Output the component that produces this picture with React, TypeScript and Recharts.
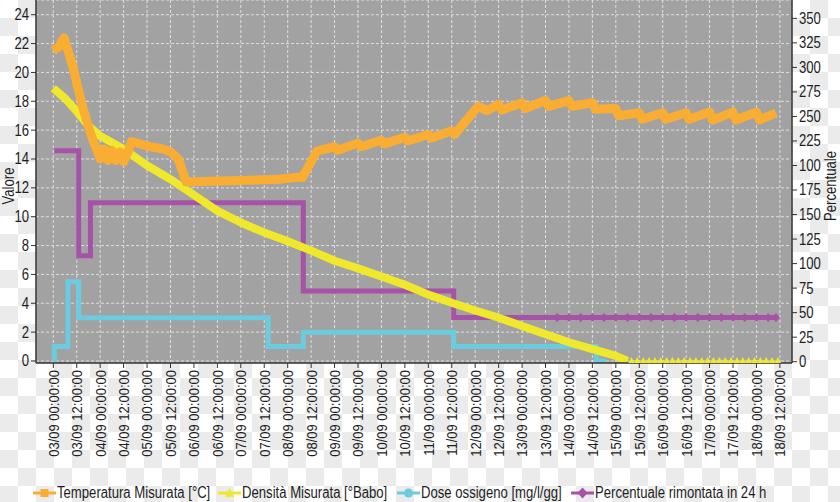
import React from 'react';
import { LineChart, Line, XAxis, YAxis, CartesianGrid } from 'recharts';

// ---------- Axis ticks ----------
const xTickHours = [0, 12, 24, 36, 48, 60, 72, 84, 96, 108, 120, 132, 144, 156, 168, 180, 192, 204, 216, 228, 240, 252, 264, 276, 288, 300, 312, 324, 336, 348, 360, 372];
const xTickLabels = [
  '03/09 00:00:00', '03/09 12:00:00', '04/09 00:00:00', '04/09 12:00:00',
  '05/09 00:00:00', '05/09 12:00:00', '06/09 00:00:00', '06/09 12:00:00',
  '07/09 00:00:00', '07/09 12:00:00', '08/09 00:00:00', '08/09 12:00:00',
  '09/09 00:00:00', '09/09 12:00:00', '10/09 00:00:00', '10/09 12:00:00',
  '11/09 00:00:00', '11/09 12:00:00', '12/09 00:00:00', '12/09 12:00:00',
  '13/09 00:00:00', '13/09 12:00:00', '14/09 00:00:00', '14/09 12:00:00',
  '15/09 00:00:00', '15/09 12:00:00', '16/09 00:00:00', '16/09 12:00:00',
  '17/09 00:00:00', '17/09 12:00:00', '18/09 00:00:00', '18/09 12:00:00',
];
const leftTicks = [0, 2, 4, 6, 8, 10, 12, 14, 16, 18, 20, 22, 24];
const rightTicks = [0, 25, 50, 75, 100, 125, 150, 175, 200, 225, 250, 275, 300, 325, 350];
const rightTickLabels = ['0', '25', '50', '75', '100', '125', '150', '175', '100', '225', '250', '275', '300', '325', '350'];

// ---------- Series (x = hours since 03/09 00:00) ----------
const tempHours = [0, 3, 5.5, 10, 15, 19, 24, 26, 28, 30, 32, 34, 36, 38, 40, 48, 56, 60, 64, 68, 80, 92, 104, 116, 126, 127.5, 135, 144, 145.5, 156, 157.5, 168, 169.5, 180, 181.5, 192, 193.5, 204, 205.5, 217.5, 222, 228, 229.5, 240, 241.5, 252, 253.5, 264, 265.5, 276, 277.5, 288, 289.5, 300, 301.5, 312, 313.5, 324, 325.5, 336, 337.5, 348, 349.5, 360, 361.5, 370];
const tempValues = [21.5, 21.8, 22.4, 20.4, 17.6, 15.8, 14.0, 14.7, 13.9, 14.6, 13.9, 14.5, 13.8, 14.4, 15.2, 14.9, 14.7, 14.5, 14.0, 12.4, 12.45, 12.5, 12.55, 12.6, 12.75, 12.7, 14.55, 14.85, 14.6, 15.1, 14.85, 15.3, 15.05, 15.5, 15.25, 15.7, 15.45, 15.95, 15.7, 17.65, 17.35, 17.8, 17.4, 17.9, 17.5, 18.05, 17.65, 18.05, 17.65, 17.9, 17.45, 17.5, 17.0, 17.2, 16.75, 17.2, 16.75, 17.2, 16.75, 17.25, 16.7, 17.25, 16.7, 17.25, 16.7, 17.2];

const densHours = [0, 6, 12, 18, 24, 36, 48, 60, 72, 84, 96, 108, 120, 132, 144, 156, 168, 180, 192, 204, 216, 228, 240, 252, 264, 276, 288, 294];
const densValues = [18.9, 18.2, 17.3, 16.3, 15.6, 14.7, 13.55, 12.6, 11.5, 10.4, 9.6, 8.9, 8.3, 7.65, 6.95, 6.42, 5.85, 5.28, 4.6, 4.04, 3.5, 3.0, 2.43, 1.85, 1.3, 0.82, 0.35, 0];
const densTailHours = [296, 299, 302, 305, 308, 311, 314, 317, 320, 323, 326, 329, 332, 335, 338, 341, 344, 347, 350, 353, 356, 359, 362, 365, 368, 371];
const densTailValues = [0, 0, 0, 0, 0, 0, 0, 0, 0, 0, 0, 0, 0, 0, 0, 0, 0, 0, 0, 0, 0, 0, 0, 0, 0, 0];

const doseHours = [0, 0.5, 7.5, 13, 110, 128, 205, 278, 283];
const doseValues = [0, 1, 5.5, 3, 1, 2, 1, 0, 0];

const pctHours = [0.5, 13, 19, 128, 205, 370.5];
const pctValues = [215, 108, 162, 72, 45, 45];
const pctTailHours = [258, 264, 270, 276, 282, 288, 294, 300, 306, 312, 318, 324, 330, 336, 342, 348, 354, 360, 366, 370];
const pctTailValues = [45, 45, 45, 45, 45, 45, 45, 45, 45, 45, 45, 45, 45, 45, 45, 45, 45, 45, 45, 45];

const zip = (hs: number[], vs: number[]) => hs.map((h, i) => ({ h, v: vs[i] }));
const tempData = zip(tempHours, tempValues);
const densData = zip(densHours, densValues);
const densTailData = zip(densTailHours, densTailValues);
const doseData = zip(doseHours, doseValues);
const pctData = zip(pctHours, pctValues);
const pctTailData = zip(pctTailHours, pctTailValues);

const C_TEMP = '#f9ae33';
const C_DENS = '#f0e82c';
const C_DOSE = '#6ccbdf';
const C_PCT = '#a653a7';
const FONT = "'Liberation Sans', Arial, sans-serif";
const SX = 0.82; // horizontal condensing to mimic a narrow face
const TXT = '#1e1e1e';

const XTick = (props: any) => {
  const { x, y, payload } = props;
  const idx = xTickHours.indexOf(payload.value);
  return (
    <text x={0} y={0} transform={`translate(${x},${y}) rotate(-90) scale(0.84,1)`} textAnchor="end" dominantBaseline="central"
      fontFamily={FONT} fontSize={15.5} fill={TXT}>
      {xTickLabels[idx]}
    </text>
  );
};
const LeftTick = (props: any) => {
  const { x, y, payload } = props;
  return (
    <text x={0} y={0} transform={`translate(${x},${y}) scale(${SX},1)`} textAnchor="end" dominantBaseline="central"
      fontFamily={FONT} fontSize={16} fill={TXT}>{payload.value}</text>
  );
};
const RightTick = (props: any) => {
  const { x, y, payload } = props;
  return (
    <text x={0} y={0} transform={`translate(${x},${y}) scale(${SX},1)`} textAnchor="start" dominantBaseline="central"
      fontFamily={FONT} fontSize={16} fill={TXT}>{rightTickLabels[rightTicks.indexOf(payload.value)]}</text>
  );
};

const Triangle = (props: any) => {
  const { cx, cy } = props;
  if (cx == null || cy == null) return null;
  return <path d={`M${cx},${cy - 4} L${cx + 3.5},${cy + 2.5} L${cx - 3.5},${cy + 2.5} Z`} fill={C_DENS} />;
};
const Diamond = (props: any) => {
  const { cx, cy } = props;
  if (cx == null || cy == null) return null;
  return <path d={`M${cx},${cy - 4.5} L${cx + 4},${cy} L${cx},${cy + 4.5} L${cx - 4},${cy} Z`} fill={C_PCT} />;
};

const legendItems = [
  { label: 'Temperatura Misurata [°C]', color: C_TEMP, shape: 'square', x: 33 },
  { label: 'Densità Misurata [°Babo]', color: C_DENS, shape: 'triangle', x: 218 },
  { label: 'Dose ossigeno [mg/l/gg]', color: C_DOSE, shape: 'circle', x: 397 },
  { label: 'Percentuale rimontata in 24 h', color: C_PCT, shape: 'diamond', x: 571 },
];

const LegendIcon = ({ color, shape }: { color: string; shape: string }) => (
  <svg width={23} height={14} style={{ display: 'block', flex: 'none' }}>
    <line x1={0} y1={7} x2={23} y2={7} stroke={color} strokeWidth={3} />
    {shape === 'square' && <rect x={7.5} y={3} width={8} height={8} fill={color} />}
    {shape === 'triangle' && <path d="M11.5,2 L16,11 L7,11 Z" fill={color} />}
    {shape === 'circle' && <circle cx={11.5} cy={7} r={4.5} fill={color} />}
    {shape === 'diamond' && <path d="M11.5,1.5 L16.5,7 L11.5,12.5 L6.5,7 Z" fill={color} />}
  </svg>
);

export default function App() {
  return (
    <div
      style={{
        position: 'absolute', left: 0, top: 0, width: 840, height: 502,
        backgroundColor: '#ffffff',
        backgroundImage: 'conic-gradient(#ebebeb 25%, #ffffff 0 50%, #ebebeb 0 75%, #ffffff 0)',
        backgroundSize: '36px 36px',
        fontFamily: FONT,
      }}
    >
      <LineChart width={840} height={502} margin={{ top: 0, right: 0, left: 0, bottom: 29 }}>
        <CartesianGrid yAxisId="left" fill="#a2a2a2" stroke="#dedede" strokeDasharray="3 2" strokeWidth={1} />
        <XAxis
          dataKey="h" type="number" domain={[-8.86, 378.2]} allowDataOverflow
          ticks={xTickHours} interval={0} height={110}
          tick={<XTick />} tickSize={5} tickMargin={2}
          axisLine={{ stroke: '#333', strokeWidth: 1.5 }} tickLine={{ stroke: '#333' }}
        />
        <YAxis
          yAxisId="left" orientation="left" width={36} domain={[-0.14, 25.02]} allowDataOverflow
          ticks={leftTicks} interval={0} tickSize={5} tickMargin={2}
          tick={<LeftTick />}
          axisLine={{ stroke: '#333', strokeWidth: 1.5 }} tickLine={{ stroke: '#333' }}
          label={{
            content: () => (
              <text x={0} y={0} transform={`translate(9,186) rotate(-90) scale(${SX},1)`} textAnchor="middle" dominantBaseline="central"
                fontFamily={FONT} fontSize={16} fill={TXT}>Valore</text>
            ),
          }}
        />
        <YAxis
          yAxisId="right" orientation="right" width={48} domain={[-1.33, 368.7]} allowDataOverflow
          ticks={rightTicks} interval={0} tickSize={5} tickMargin={2}
          tick={<RightTick />}
          axisLine={{ stroke: '#333', strokeWidth: 1.5 }} tickLine={{ stroke: '#333' }}
          label={{
            content: () => (
              <text x={0} y={0} transform={`translate(831,186) rotate(-90) scale(${SX},1)`} textAnchor="middle" dominantBaseline="central"
                fontFamily={FONT} fontSize={16} fill={TXT}>Percentuale</text>
            ),
          }}
        />
        <Line yAxisId="right" data={pctData} dataKey="v" type="stepAfter" stroke={C_PCT} strokeWidth={5}
          dot={false} isAnimationActive={false} />
        <Line yAxisId="right" data={pctTailData} dataKey="v" type="linear" stroke="none"
          dot={<Diamond />} isAnimationActive={false} />
        <Line yAxisId="left" data={doseData} dataKey="v" type="stepAfter" stroke={C_DOSE} strokeWidth={5}
          dot={false} isAnimationActive={false} />
        <Line yAxisId="left" data={densData} dataKey="v" type="linear" stroke={C_DENS} strokeWidth={8}
          strokeLinejoin="round" dot={false} isAnimationActive={false} />
        <Line yAxisId="left" data={densTailData} dataKey="v" type="linear" stroke={C_DENS} strokeWidth={1}
          dot={<Triangle />} isAnimationActive={false} />
        <Line yAxisId="left" data={tempData} dataKey="v" type="linear" stroke={C_TEMP} strokeWidth={9}
          strokeLinejoin="round" dot={false} isAnimationActive={false} />
      </LineChart>
      {legendItems.map((it) => (
        <div key={it.label} style={{ position: 'absolute', left: it.x, top: 484, display: 'flex', alignItems: 'center', height: 18 }}>
          <LegendIcon color={it.color} shape={it.shape} />
          <span style={{ display: 'inline-block', fontSize: 16, color: TXT, marginLeft: 1, whiteSpace: 'nowrap', lineHeight: '18px', transform: `scaleX(${SX})`, transformOrigin: 'left center' }}>{it.label}</span>
        </div>
      ))}
    </div>
  );
}
